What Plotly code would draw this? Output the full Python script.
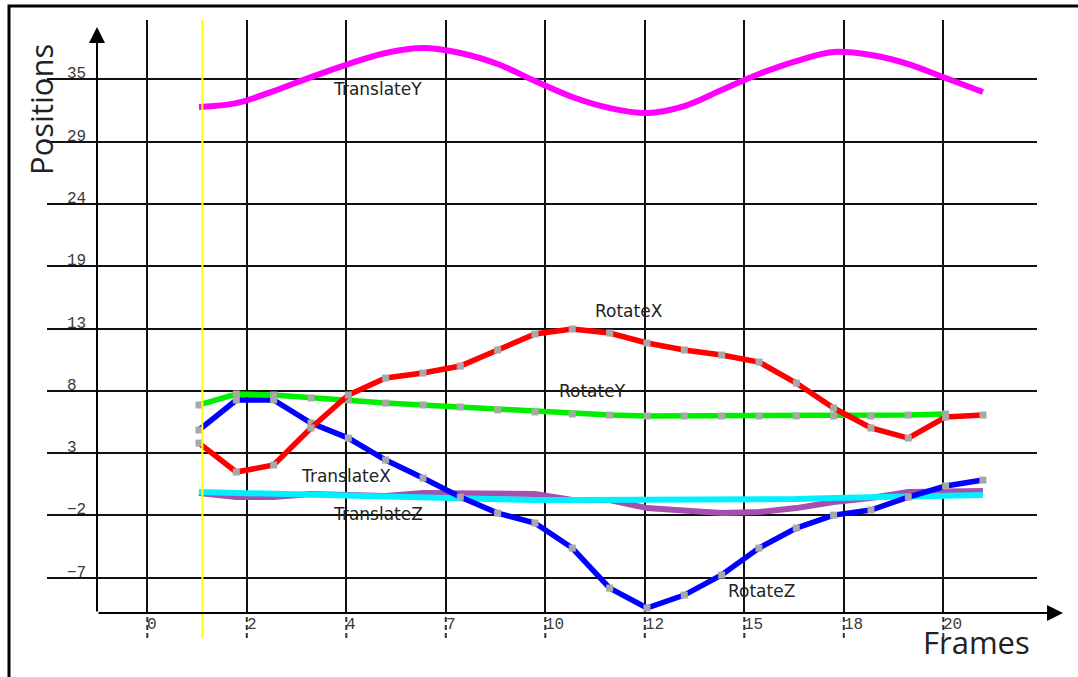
import plotly.graph_objects as go

# ---------------- data ----------------
frames = list(range(1, 23))

translate_y = [32.67, 33.00, 34.01, 35.19, 36.29, 37.22, 37.64, 37.22, 36.29, 34.86, 33.51,
               32.58, 32.16, 32.75, 34.10, 35.45, 36.54, 37.30, 37.05, 36.29, 35.11, 33.93]
rotate_x = [4.35, 1.91, 2.50, 5.62, 8.40, 9.83, 10.25, 10.84, 12.19, 13.54, 13.96,
            13.62, 12.78, 12.19, 11.77, 11.18, 9.41, 7.30, 5.62, 4.77, 6.54, 6.71]
rotate_y = [7.56, 8.48, 8.40, 8.15, 7.98, 7.72, 7.56, 7.39, 7.14, 6.97, 6.80,
            6.71, 6.63, 6.63, 6.63, 6.63, 6.63, 6.63, 6.63, 6.71, 6.80]
rotate_z = [5.45, 7.98, 7.98, 6.04, 4.77, 2.92, 1.40, -0.20, -1.55, -2.39, -4.50,
            -7.87, -9.55, -8.46, -6.77, -4.50, -2.81, -1.72, -1.29, -0.20, 0.73, 1.23]
translate_x = [0.22, 0.14, 0.14, 0.05, -0.03, -0.11, -0.20, -0.28, -0.37, -0.45, -0.45,
               -0.45, -0.45, -0.45, -0.45, -0.37, -0.37, -0.28, -0.20, -0.11, -0.03, -0.03]
translate_z = [0.14, -0.20, -0.20, 0.05, -0.03, -0.11, 0.14, 0.14, 0.14, 0.05, -0.45,
               -0.45, -1.13, -1.38, -1.55, -1.46, -1.13, -0.62, -0.28, 0.22, 0.31, 0.31]

x_tick_labels = ["0", "2", "4", "7", "10", "12", "15", "18", "20"]
y_tick_labels = ["35", "29", "24", "19", "13", "8", "3", "\u22122", "\u22127"]
current_frame = 1.09

# ---------------- geometry ----------------
W, H = 1078, 677
def px(v):
    return v / W
def py(v):
    return 1 - v / H

x_range = [-1.732, 23.448]
y_range = [-9.97, 40.0]
x_tickvals = [-0.385 + 2.6654 * k for k in range(len(x_tick_labels))]
y_tickvals = [35 - 5.25 * k for k in range(len(y_tick_labels))]

fig = go.Figure()

mk = dict(symbol="square", size=7, color="#a8a8a8")
fig.add_trace(go.Scatter(x=frames, y=translate_z, mode="lines",
                         line=dict(color="#a64fb0", width=6)))
fig.add_trace(go.Scatter(x=frames, y=translate_x, mode="lines",
                         line=dict(color="#00f0ff", width=6)))
fig.add_trace(go.Scatter(x=frames, y=rotate_z, mode="lines+markers",
                         line=dict(color="#0000ff", width=5.5), marker=mk))
fig.add_trace(go.Scatter(x=frames[:len(rotate_y)], y=rotate_y, mode="lines+markers",
                         line=dict(color="#00ee00", width=5.5), marker=mk))
fig.add_trace(go.Scatter(x=frames, y=rotate_x, mode="lines+markers",
                         line=dict(color="#ff0000", width=5.5), marker=mk))
fig.add_trace(go.Scatter(x=frames, y=translate_y, mode="lines",
                         line=dict(color="#ff00ff", width=6, shape="spline")))

fig.update_layout(
    width=W, height=H, showlegend=False,
    margin=dict(l=0, r=0, t=0, b=0),
    paper_bgcolor="white", plot_bgcolor="white",
    xaxis=dict(domain=[px(97), px(1037)], range=x_range, tickvals=x_tickvals,
               showgrid=True, gridcolor="#111", gridwidth=2, zeroline=False,
               showline=False, ticks="", showticklabels=False),
    yaxis=dict(domain=[py(613), py(20)], range=y_range, tickvals=y_tickvals,
               showgrid=True, gridcolor="#111", gridwidth=2, zeroline=False,
               showline=False, ticks="outside", ticklen=49, tickwidth=2,
               tickcolor="#111", showticklabels=False),
)

shapes = []
# outer frame
shapes.append(dict(type="rect", xref="paper", yref="paper", x0=px(9), x1=1.02,
                   y0=-0.02, y1=py(6), line=dict(color="black", width=3)))
# dashed x ticks below axis
for tv in x_tickvals:
    shapes.append(dict(type="line", xref="x", yref="paper", x0=tv, x1=tv,
                       y0=py(638), y1=py(613), line=dict(color="#333", width=2, dash="5px,3px")))
# current frame marker
shapes.append(dict(type="line", xref="x", yref="paper", x0=current_frame, x1=current_frame,
                   y0=py(638), y1=py(20), line=dict(color="#ffff00", width=2), layer="above"))
fig.update_layout(shapes=shapes)

ann = []
# axes with arrows
ann.append(dict(xref="paper", yref="paper", x=px(1063), y=py(613), ax=-966, ay=0,
                axref="pixel", ayref="pixel", text="", showarrow=True, arrowhead=2,
                arrowsize=1.6, arrowwidth=2, arrowcolor="black", standoff=0))
ann.append(dict(xref="paper", yref="paper", x=px(97), y=py(27), ax=0, ay=586,
                axref="pixel", ayref="pixel", text="", showarrow=True, arrowhead=2,
                arrowsize=1.6, arrowwidth=2, arrowcolor="black", standoff=0))
tickfont = dict(family="Liberation Mono", size=16, color="#3a3a3a")
for tv, lab in zip(y_tickvals, y_tick_labels):
    ann.append(dict(xref="paper", yref="y", x=px(65), y=tv, text=lab, showarrow=False,
                    xanchor="left", yanchor="bottom", yshift=-6, font=tickfont))
for tv, lab in zip(x_tickvals, x_tick_labels):
    ann.append(dict(xref="x", yref="paper", x=tv, y=py(614), text=lab, showarrow=False,
                    xanchor="left", yanchor="top", xshift=-2, font=tickfont))
# axis titles
ann.append(dict(xref="paper", yref="paper", x=px(41), y=py(110), text="Positions",
                textangle=-90, showarrow=False, xanchor="center", yanchor="middle",
                font=dict(family="Open Sans", size=31, color="#222")))
ann.append(dict(xref="paper", yref="paper", x=px(976), y=py(642), text="Frames",
                showarrow=False, xanchor="center", yanchor="middle",
                font=dict(family="Open Sans", size=31, color="#222")))
# curve labels
lab_font = dict(family="DejaVu Sans", size=17, color="#222")
curve_labels = [("TranslateY", 5.77, 34.18), ("RotateX", 12.52, 15.48), ("RotateY", 11.53, 8.73),
                ("TranslateX", 4.94, 1.57), ("TranslateZ", 5.80, -1.63), ("RotateZ", 16.08, -8.12)]
for t, x, y in curve_labels:
    ann.append(dict(xref="x", yref="y", x=x, y=y, text=t, showarrow=False,
                    xanchor="center", yanchor="middle", font=lab_font))
fig.update_layout(annotations=ann)

fig.write_html("out.html", config={"displayModeBar": False},
               post_script="document.body.style.margin='0px';")
